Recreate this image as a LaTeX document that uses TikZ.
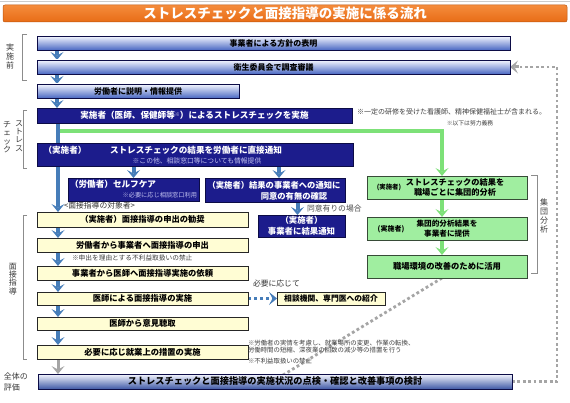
\documentclass[tikz,border=0pt]{standalone}
\usepackage{fontspec}
\setmainfont{Noto Sans CJK JP}
\usetikzlibrary{arrows.meta,calc}
\pgfdeclarelayer{bg}
\pgfsetlayers{bg,main}
\definecolor{navy}{RGB}{28,28,140}
\definecolor{navyline}{RGB}{12,12,70}
\definecolor{arrblue}{RGB}{70,125,185}
\definecolor{boxblueb}{RGB}{75,105,195}
\definecolor{boxbluet}{RGB}{245,247,255}
\definecolor{ylw}{RGB}{255,253,212}
\definecolor{grn}{RGB}{160,238,160}
\definecolor{grnline}{RGB}{55,75,55}
\definecolor{garr}{RGB}{125,225,120}
\definecolor{orng}{RGB}{232,108,22}
\definecolor{orngt}{RGB}{245,140,60}
\definecolor{gdotc}{RGB}{165,165,165}
\definecolor{lbl}{RGB}{60,60,60}
\definecolor{subc}{RGB}{195,195,240}
\tikzset{
  box/.style={inner sep=0pt, outer sep=0pt, align=center},
  bluebox/.style={box, draw=navyline, line width=0.8pt, top color=boxbluet, bottom color=boxblueb, font=\bfseries\fontsize{8}{9}\selectfont},
  navybox/.style={box, draw=navyline, line width=0.8pt, fill=navy, text=white, font=\bfseries\fontsize{8.6}{10}\selectfont},
  ybox/.style={box, draw=black!85, line width=0.9pt, fill=ylw, font=\bfseries\fontsize{8.3}{9}\selectfont},
  gbox/.style={box, draw=grnline, line width=0.9pt, fill=grn, font=\bfseries\fontsize{8.3}{9.5}\selectfont},
  txt/.style={inner sep=0pt, outer sep=0pt},
  wtxt/.style={txt, text=white, font=\bfseries\fontsize{8.6}{10}\selectfont},
  note/.style={txt, text=black!75, font=\fontsize{6.5}{7}\selectfont},
  lab/.style={txt, align=center, text=lbl, font=\fontsize{8}{9}\selectfont},
  bracket/.style={draw=black!45, line width=0.5pt},
  tipc/.style={-{Stealth[length=8pt,width=13pt,inset=3.5pt,line width=0pt]}},
  barrow/.style={draw=arrblue, line width=4pt, tipc},
  garrow/.style={draw=garr, line width=4pt, tipc},
  grayarrow/.style={draw=gdotc, line width=3pt, tipc},
  gdot/.style={draw=gdotc, line width=2.8pt, dash pattern=on 2.8pt off 2.6pt},
  bdot/.style={draw=arrblue, line width=3pt, dash pattern=on 3pt off 3pt, tipc},
}
\begin{document}
\begin{tikzpicture}[x=1pt,y=-1pt]
\useasboundingbox (0,0) rectangle (570,403);
\draw[black!20, line width=0.6pt] (0,1.5) -- (570,1.5);
% title
\node[box, rounded corners=2pt, draw=orng!80!black, line width=0.5pt, top color=orngt, bottom color=orng, minimum width=564pt, minimum height=17pt, text=white, font=\bfseries\fontsize{13.5}{14}\selectfont] (title) at (285,13.5) {ストレスチェックと面接指導の実施に係る流れ};
% left labels
\node[lab, font=\fontsize{8}{9}\selectfont] (l1) at (10,56) {実\\施\\前};
\draw[bracket] (27,34) -- (22,34) -- (22,80) -- (27,80);
\node[lab, font=\fontsize{8}{8.3}\selectfont] (l2a) at (19,136) {ス\\ト\\レ\\ス};
\node[lab, font=\fontsize{8}{8.3}\selectfont] (l2b) at (7,137) {チ\\ェ\\ッ\\ク};
\draw[bracket] (27,110) -- (23,110) -- (23,168) -- (27,168);
\node[lab, font=\fontsize{8}{8.3}\selectfont] (l3) at (13,279) {面\\接\\指\\導};
\draw[bracket] (27,215) -- (23,215) -- (23,359) -- (27,359);
\node[lab, align=left, anchor=west, font=\fontsize{8}{11}\selectfont] (l4) at (4,382) {全体の\\評価};
% top boxes
\node[bluebox, minimum width=473pt, minimum height=14pt] (b1) at (273.5,43) {事業者による方針の表明};
\node[bluebox, minimum width=473pt, minimum height=14pt] (b2) at (273.5,67) {衛生委員会で調査審議};
\node[bluebox, minimum width=202pt, minimum height=14pt] (b3) at (138,91) {労働者に説明・情報提供};
\node[navybox, minimum width=315pt, minimum height=15pt] (b4) at (194.5,115.5) {実施者（医師、保健師等{\fontsize{5}{5}\selectfont\raisebox{2pt}{※}}）によるストレスチェックを実施};
\node[note, anchor=west, font=\fontsize{7}{7}\selectfont] (n1) at (357,112) {※一定の研修を受けた看護師、精神保健福祉士が含まれる。};
\node[note, font=\fontsize{5.8}{6}\selectfont] (n2) at (470,123.5) {※以下は努力義務};
% box5
\node[navybox, minimum width=316pt, minimum height=23pt] (b5) at (195,154.5) {};
\node[wtxt] (b5a) at (65,150) {（実施者）};
\node[wtxt] (b5b) at (196,150) {ストレスチェックの結果を労働者に直接通知};
\node[txt, text=subc, font=\fontsize{6.8}{7}\selectfont] (b5c) at (197,160.5) {※この他、相談窓口等についても情報提供};
% box6
\node[navybox, minimum width=131pt, minimum height=23pt] (b6) at (133.5,189.5) {};
\node[wtxt, anchor=west] (b6a) at (70,184.5) {（労働者）セルフケア};
\node[txt, anchor=east, text=subc, font=\fontsize{6.2}{6.5}\selectfont] (b6b) at (197,195.5) {※必要に応じ相談窓口利用};
% box7
\node[navybox, minimum width=140pt, minimum height=24pt] (b7) at (275,190) {};
\node[wtxt, font=\bfseries\fontsize{8.3}{9}\selectfont] (b7a) at (274,185) {（実施者）結果の事業者への通知に};
\node[wtxt, font=\bfseries\fontsize{8.3}{9}\selectfont] (b7b) at (294,196) {同意の有無の確認};
% box8
\node[navybox, minimum width=87pt, minimum height=22pt, font=\bfseries\fontsize{8.4}{10.5}\selectfont] (b8) at (301.5,226) {（実施者）\\事業者に結果通知};
\node[txt, anchor=west, text=black!70, font=\fontsize{7.8}{8}\selectfont] (doui) at (307,208.5) {同意有りの場合};
% yellow chain
\node[txt, anchor=west, text=black!80, font=\fontsize{7.8}{8}\selectfont] (taisho) at (64,206) {<面接指導の対象者>};
\node[ybox, minimum width=211pt, minimum height=15pt] (y1) at (142.5,219.5) {（実施者）面接指導の申出の勧奨};
\node[ybox, minimum width=211pt, minimum height=14pt] (y2) at (142.5,245) {労働者から事業者へ面接指導の申出};
\node[note, anchor=west, font=\fontsize{6.7}{7}\selectfont] (n3) at (72,258) {※申出を理由とする不利益取扱いの禁止};
\node[ybox, minimum width=211pt, minimum height=14pt] (y3) at (142.5,273) {事業者から医師へ面接指導実施の依頼};
\node[ybox, minimum width=211pt, minimum height=13pt] (y4) at (142.5,298.5) {医師による面接指導の実施};
\node[ybox, minimum width=211pt, minimum height=13pt] (y5) at (142.5,323.5) {医師から意見聴取};
\node[ybox, minimum width=211pt, minimum height=14pt] (y6) at (142.5,352) {必要に応じ就業上の措置の実施};
\node[txt, anchor=west, text=black!80, font=\fontsize{7.8}{8}\selectfont] (hitsu) at (253,284) {必要に応じて};
\node[ybox, minimum width=108pt, minimum height=13pt, font=\bfseries\fontsize{7.8}{9}\selectfont] (soudan) at (331,298.5) {相談機関、専門医への紹介};
\node[note, anchor=north west, align=left, font=\fontsize{6.4}{7.2}\selectfont] (n4) at (248,340) {※労働者の実情を考慮し、就業場所の変更、作業の転換、\\労働時間の短縮、深夜業の回数の減少等の措置を行う};
\node[note, anchor=west, font=\fontsize{6.4}{7}\selectfont] (n5) at (248,361.5) {※不利益取扱いの禁止};
% green boxes
\node[gbox, minimum width=160pt, minimum height=23pt] (g1) at (447,187.5) {};
\node[txt, font=\bfseries\fontsize{6.4}{7}\selectfont] (g1a) at (389,187.5) {(実施者)};
\node[txt, align=center, font=\bfseries\fontsize{8.2}{10}\selectfont] (g1b) at (455,187.5) {ストレスチェックの結果を\\職場ごとに集団的分析};
\node[gbox, minimum width=160pt, minimum height=23pt] (g2) at (447,228.5) {};
\node[txt, font=\bfseries\fontsize{7}{7}\selectfont] (g2a) at (391,229) {(実施者)};
\node[txt, align=center, font=\bfseries\fontsize{7.6}{10}\selectfont] (g2b) at (447,228.5) {集団的分析結果を\\事業者に提供};
\node[gbox, minimum width=160pt, minimum height=23pt] (g3) at (447,266.5) {職場環境の改善のために活用};
\draw[bracket] (531,175) -- (537,175) -- (537,273) -- (531,273);
\node[lab, font=\fontsize{8}{9}\selectfont] (l5) at (544,216) {集\\団\\分\\析};
% bottom box
\node[bluebox, minimum width=474pt, minimum height=15pt, bottom color=boxblueb!85!black, font=\bfseries\fontsize{9.2}{10}\selectfont] (bot) at (275,381.5) {ストレスチェックと面接指導の実施状況の点検・確認と改善事項の検討};
\coordinate (gs) at (58,131);
\coordinate (rc1) at (557,381.5);
\coordinate (rc2) at (557,67);
\begin{pgfonlayer}{bg}
  \fill[white] (0,0) rectangle (570,403);
  \draw[garrow] (gs) -| ([xshift=-5pt]g1.north);
  \draw[barrow] ([xshift=20pt]b1.south west) -- ([xshift=20pt]b2.north west);
  \draw[barrow] ([xshift=20pt]b2.south west) -- ([xshift=20pt]b3.north west);
  \draw[barrow] ([xshift=20pt]b3.south west) -- ([xshift=20pt]b4.north west);
  \draw[barrow] ([xshift=21pt]b4.south west) -- ([xshift=21pt]y1.north west);
  \draw[barrow] (b6.north |- b5.south) -- (b6.north);
  \draw[barrow] ([xshift=4pt]b7.north |- b5.south) -- ([xshift=4pt]b7.north);
  \draw[barrow] ([xshift=-4pt]b8.north |- b7.south) -- ([xshift=-4pt]b8.north);
  \draw[barrow] ([xshift=21pt]y1.south west) -- ([xshift=21pt]y2.north west);
  \draw[barrow] ([xshift=21pt]y2.south west) -- ([xshift=21pt]y3.north west);
  \draw[barrow] ([xshift=21pt]y3.south west) -- ([xshift=21pt]y4.north west);
  \draw[barrow] ([xshift=21pt]y4.south west) -- ([xshift=21pt]y5.north west);
  \draw[barrow] ([xshift=21pt]y5.south west) -- ([xshift=21pt]y6.north west);
  \draw[grayarrow] ([xshift=21pt]y6.south west) -- ([xshift=20pt]bot.north west);
  \draw[bdot] (y4.east) -- (soudan.west);
  \draw[garrow] ([xshift=-5pt]g1.south) -- ([xshift=-5pt]g2.north);
  \draw[garrow] ([xshift=-5pt]g2.south) -- ([xshift=-5pt]g3.north);
  \draw[gdot] ([xshift=-5pt]g3.south) -- ([xshift=-5pt,yshift=-9pt]bot.north);
  \draw[grayarrow] ([xshift=-5pt,yshift=-9pt]bot.north) -- ([xshift=-5pt]bot.north);
  \draw[gdot] (bot.east) -- (rc1) -- (rc2) -- ([xshift=9pt]b2.east);
  \draw[grayarrow] ([xshift=9pt]b2.east) -- (b2.east);
\end{pgfonlayer}
\end{tikzpicture}
\end{document}
